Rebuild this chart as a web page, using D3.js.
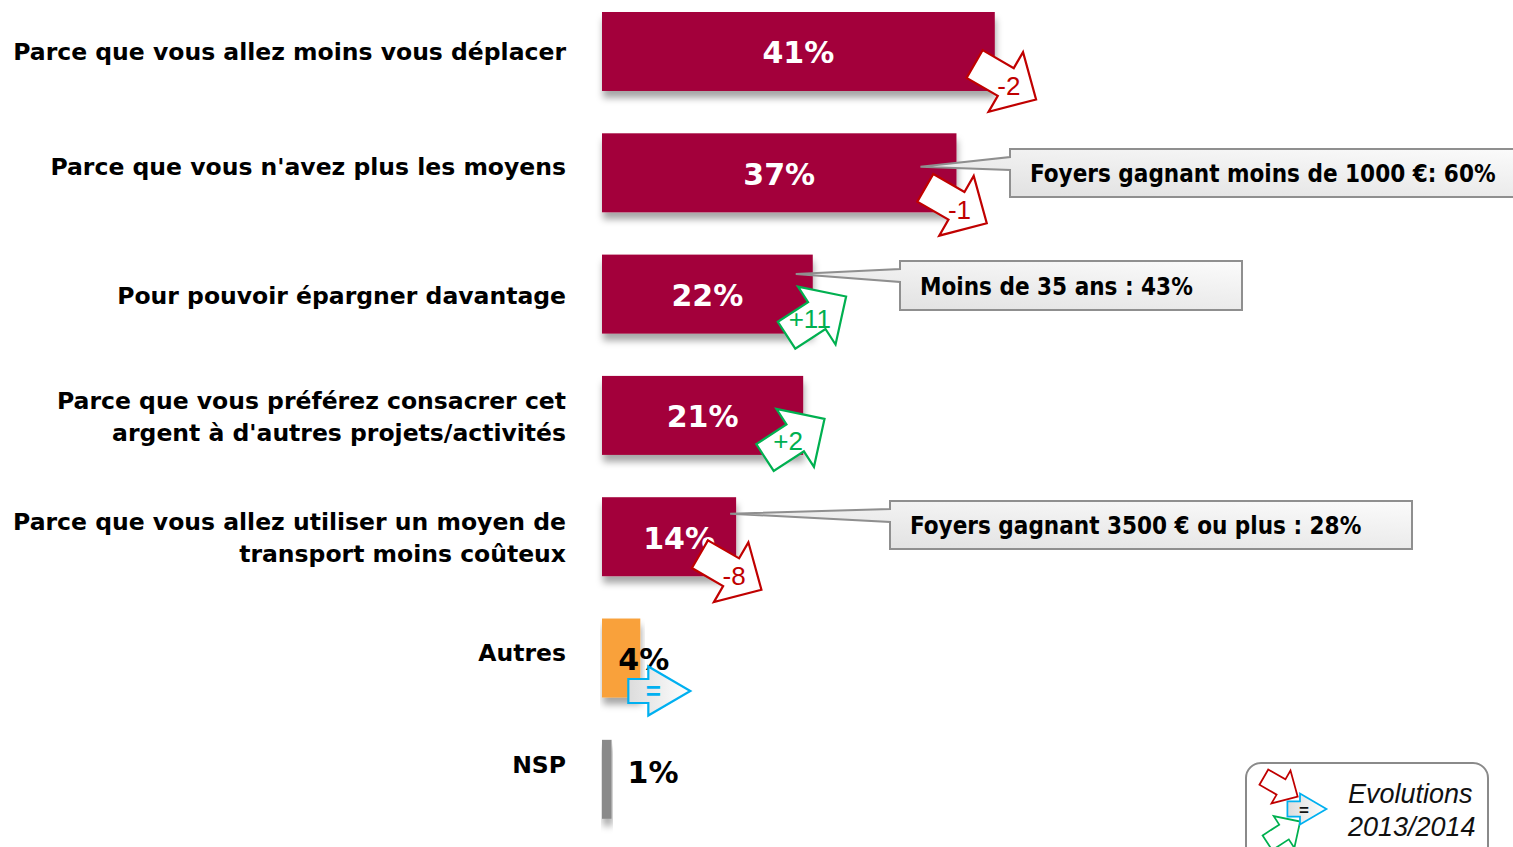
<!DOCTYPE html>
<html lang="fr">
<head>
<meta charset="UTF-8">
<title>Raisons de la baisse du budget</title>
<script src="https://d3js.org/d3.v7.min.js"></script>
<style>
  body { margin: 0; background: #fff; }
  .cat { font: bold 23.5px "DejaVu Sans", sans-serif; fill: #000; }
  .val { font: bold 30px "DejaVu Sans", sans-serif; }
  .callout text { font: bold 24px "DejaVu Sans Condensed", "DejaVu Sans", sans-serif; font-stretch: condensed; fill: #000; }
  .evo text { font: 26px "Liberation Sans", sans-serif; }
  .legend text { font: italic 27px "Liberation Sans", sans-serif; fill: #111; }
</style>
</head>
<body>
<svg width="1513" height="847"></svg>
<script>
// données
const categories = [
  "Parce que vous allez moins vous déplacer",
  "Parce que vous n'avez plus les moyens",
  "Pour pouvoir épargner davantage",
  "Parce que vous préférez consacrer cet\nargent à d'autres projets/activités",
  "Parce que vous allez utiliser un moyen de\ntransport moins coûteux",
  "Autres",
  "NSP"
];
const values = [41, 37, 22, 21, 14, 4, 1];
const evolutions = ["-2", "-1", "+11", "+2", "-8", "=", null];
const calloutRows = [1, 2, 4];
const calloutTexts = [
  "Foyers gagnant moins de 1000 €: 60%",
  "Moins de 35 ans : 43%",
  "Foyers gagnant 3500 € ou plus : 28%"
];
const legendLines = ["Evolutions", "2013/2014"];

// mise en forme
const barColors = ["#a3063a", "#a3063a", "#a3063a", "#a3063a", "#a3063a", "#f9a13b", "#8a8a8a"];
const catDy = [0, -6, 1, 1, 1, -6, -15];
const valueLabel = [
  { anchor: "middle", dx: 0, dy: 0, fill: "#fff" },
  { anchor: "middle", dx: 0, dy: 0, fill: "#fff" },
  { anchor: "middle", dx: 0, dy: 0, fill: "#fff" },
  { anchor: "middle", dx: 0, dy: 0, fill: "#fff" },
  { anchor: "middle", dx: 10, dy: 0, fill: "#fff" },
  { anchor: "start", dx: -22, dy: 0, fill: "#000" },
  { anchor: "start", dx: 16, dy: -8, fill: "#000" }
];
const evoOffset = [[11, 30.5], [0, 33], [4, 21.5], [-8, 22.5], [-5, 35.5], [8, 33]];
const calloutLayout = [
  { x: 1010, y: 149, w: 510, h: 48, tip: [-36, -6] },
  { x: 900, y: 261, w: 342, h: 49, tip: [-17, -20] },
  { x: 890, y: 501, w: 522, h: 48, tip: [-6, -23] }
];

const svg = d3.select("svg");

const x = d3.scaleLinear().domain([0, 100]).range([602, 1560]);
const y = d3.scaleBand().domain(categories).range([12, 818.8]).paddingInner(0.349).paddingOuter(0);
const yc = i => y(categories[i]) + y.bandwidth() / 2;

const defs = svg.append("defs");
const shadow = defs.append("filter").attr("id", "shadow")
  .attr("x", "-5%").attr("y", "-10%").attr("width", "115%").attr("height", "150%");
shadow.append("feDropShadow").attr("dx", 1).attr("dy", 7).attr("stdDeviation", 3.5)
  .attr("flood-color", "#000").attr("flood-opacity", 0.35);

const boxGrad = defs.append("linearGradient").attr("id", "boxGrad")
  .attr("x1", 1).attr("y1", 0).attr("x2", 0.3).attr("y2", 1);
boxGrad.append("stop").attr("offset", 0).attr("stop-color", "#fbfbfb");
boxGrad.append("stop").attr("offset", 1).attr("stop-color", "#e3e3e3");

const eqGrad = defs.append("linearGradient").attr("id", "eqGrad")
  .attr("x1", 1).attr("y1", 0).attr("x2", 0).attr("y2", 0);
eqGrad.append("stop").attr("offset", 0).attr("stop-color", "#ffffff");
eqGrad.append("stop").attr("offset", 1).attr("stop-color", "#dcdcdc");

// barres
svg.append("g").selectAll("rect")
  .data(values)
  .join("rect")
  .attr("x", x(0))
  .attr("y", (d, i) => y(categories[i]))
  .attr("width", d => x(d) - x(0))
  .attr("height", y.bandwidth())
  .attr("fill", (d, i) => barColors[i])
  .attr("filter", "url(#shadow)");

// libellés des catégories
const cat = svg.append("g").selectAll("text")
  .data(categories)
  .join("text")
  .attr("class", "cat")
  .attr("text-anchor", "end")
  .attr("x", 566)
  .attr("y", (d, i) => yc(i) + catDy[i]);
cat.each(function(d) {
  const lines = d.split("\n");
  const t = d3.select(this);
  lines.forEach((line, k) => {
    t.append("tspan")
      .attr("x", 566)
      .attr("dy", k === 0 ? ((-(lines.length - 1) * 32) / 2 + 8.5) : 32)
      .text(line);
  });
});

// valeurs
svg.append("g").selectAll("text")
  .data(values)
  .join("text")
  .attr("class", "val")
  .attr("text-anchor", (d, i) => valueLabel[i].anchor)
  .attr("x", (d, i) => (valueLabel[i].anchor === "middle" ? (x(0) + x(d)) / 2 : x(d)) + valueLabel[i].dx)
  .attr("y", (d, i) => yc(i) + 12 + valueLabel[i].dy)
  .attr("fill", (d, i) => valueLabel[i].fill)
  .text(d => d + "%");

// bulles
const callouts = svg.append("g").selectAll("g")
  .data(calloutTexts)
  .join("g")
  .attr("class", "callout");
callouts.append("path")
  .attr("d", (d, k) => {
    const c = calloutLayout[k], r = calloutRows[k];
    const tx = x(values[r]) + c.tip[0], ty = yc(r) + c.tip[1];
    return `M${tx},${ty}L${c.x},${c.y + 8}L${c.x},${c.y}L${c.x + c.w},${c.y}` +
      `L${c.x + c.w},${c.y + c.h}L${c.x},${c.y + c.h}L${c.x},${c.y + 21}Z`;
  })
  .attr("fill", "url(#boxGrad)")
  .attr("stroke", "#8f8f8f")
  .attr("stroke-width", 2)
  .attr("stroke-linejoin", "miter");
callouts.append("text")
  .attr("x", (d, k) => calloutLayout[k].x + 20)
  .attr("y", (d, k) => calloutLayout[k].y + calloutLayout[k].h / 2 + 9)
  .text(d => d);

// flèches d'évolution
function arrowPath(L1, L2, w1, w2) {
  return `M${-L1},${-w1}L0,${-w1}L0,${-w2}L${L2},0L0,${w2}L0,${w1}L${-L1},${w1}Z`;
}
const arrowStyle = {
  "-": { color: "#c00000", angle: 30, shape: arrowPath(36, 35, 16, 34.5), fill: "#fff", text: [3, 4] },
  "+": { color: "#00b050", angle: -33, shape: arrowPath(36, 35, 16, 34.5), fill: "#fff", text: [-7, 3] },
  "=": { color: "#00b0f0", angle: 0, shape: arrowPath(20, 42, 12, 24.5), fill: "url(#eqGrad)", text: [5, 0] }
};
const evoData = evolutions.map((e, i) => ({ e, i })).filter(d => d.e !== null);
const evo = svg.append("g").selectAll("g")
  .data(evoData)
  .join("g")
  .attr("class", "evo")
  .attr("transform", d => `translate(${x(values[d.i]) + evoOffset[d.i][0]},${yc(d.i) + evoOffset[d.i][1]})`);
evo.append("path")
  .attr("d", d => arrowStyle[d.e[0]].shape)
  .attr("transform", d => `rotate(${arrowStyle[d.e[0]].angle})`)
  .attr("fill", d => arrowStyle[d.e[0]].fill)
  .attr("stroke", d => arrowStyle[d.e[0]].color)
  .attr("stroke-width", 2.2);
evo.append("text")
  .attr("x", d => arrowStyle[d.e[0]].text[0])
  .attr("y", d => arrowStyle[d.e[0]].text[1])
  .attr("dy", "0.35em")
  .attr("text-anchor", "middle")
  .attr("fill", d => arrowStyle[d.e[0]].color)
  .style("font-weight", d => d.e === "=" ? "bold" : null)
  .text(d => d.e);

// légende
const legend = svg.append("g").attr("class", "legend");
legend.append("rect")
  .attr("x", 1246).attr("y", 763).attr("width", 242).attr("height", 110).attr("rx", 15)
  .attr("fill", "#fff").attr("stroke", "#8a8a8a").attr("stroke-width", 2);
const legArrows = [
  { s: "-", at: [1281, 787], k: 0.55 },
  { s: "+", at: [1284, 832], k: 0.55 },
  { s: "=", at: [1300, 809], k: 0.63 }
];
legArrows.forEach(a => {
  const st = arrowStyle[a.s];
  legend.append("path")
    .attr("d", st.shape)
    .attr("transform", `translate(${a.at[0]},${a.at[1]}) rotate(${st.angle}) scale(${a.k})`)
    .attr("fill", st.fill)
    .attr("stroke", st.color)
    .attr("stroke-width", 2.2 / a.k * 0.8);
});
legend.append("text")
  .attr("x", 1304).attr("y", 810).attr("dy", "0.35em")
  .attr("text-anchor", "middle")
  .style("font", "bold 17px 'Liberation Sans', sans-serif")
  .attr("fill", "#00b0f0")
  .text("=");
legend.selectAll("text.line")
  .data(legendLines)
  .join("text")
  .attr("class", "line")
  .attr("x", 1348)
  .attr("y", (d, i) => 803 + i * 33)
  .text(d => d);
</script>
</body>
</html>
